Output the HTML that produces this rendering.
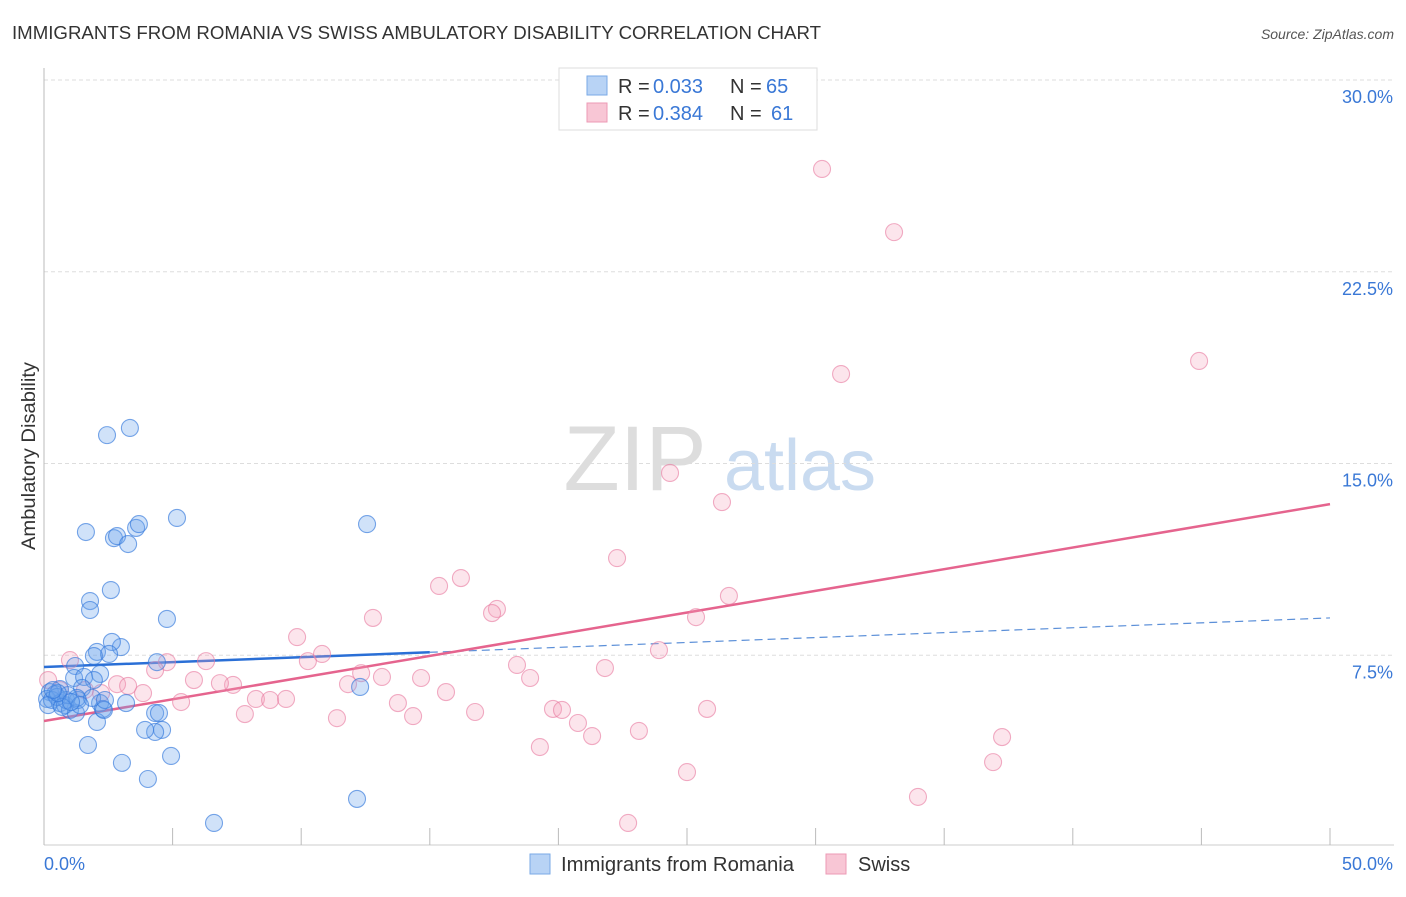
<!DOCTYPE html>
<html><head><meta charset="utf-8"><style>
body{margin:0;background:#fff;font-family:"Liberation Sans",sans-serif;}
svg text{font-family:"Liberation Sans",sans-serif;}
</style></head><body>
<svg id="chart" width="1406" height="892" viewBox="0 0 1406 892" xmlns="http://www.w3.org/2000/svg">
<text x="12" y="39" font-size="18" fill="#333" textLength="809" lengthAdjust="spacingAndGlyphs">IMMIGRANTS FROM ROMANIA VS SWISS AMBULATORY DISABILITY CORRELATION CHART</text>
<text x="1394" y="39" font-size="14" fill="#555" font-style="italic" text-anchor="end">Source: ZipAtlas.com</text>
<text x="35" y="456" font-size="19" fill="#333" transform="rotate(-90 35 456)" text-anchor="middle" textLength="188" lengthAdjust="spacingAndGlyphs">Ambulatory Disability</text>
<g><text x="635" y="490" font-size="92" fill="#ddd" text-anchor="middle" font-family="Liberation Serif">ZIP</text><text x="800" y="490" font-size="72" fill="#c9dbf0" text-anchor="middle">atlas</text></g>
<g id="grid"></g>
<g id="axes"></g>
<g id="lines"></g>
<g id="points"></g>
<g>
<rect x="559" y="68" width="258" height="62" fill="#fff" stroke="#ddd"/>
<rect x="587" y="76" width="20" height="19" fill="#b8d3f5" stroke="#7aa9e6"/>
<rect x="587" y="103" width="20" height="19" fill="#f8c6d5" stroke="#ec9ab5"/>
<g font-size="20">
<text x="618" y="93" fill="#333">R =</text><text x="653" y="93" fill="#3a78d6">0.033</text>
<text x="730" y="93" fill="#333">N =</text><text x="766" y="93" fill="#3a78d6">65</text></g>
<g font-size="20">
<text x="618" y="120" fill="#333">R =</text><text x="653" y="120" fill="#3a78d6">0.384</text>
<text x="730" y="120" fill="#333">N =</text><text x="771" y="120" fill="#3a78d6">61</text></g>
</g>
<g>
<rect x="530" y="854" width="20" height="20" fill="#b8d3f5" stroke="#7aa9e6"/>
<text x="561" y="871" font-size="20" fill="#333" textLength="233" lengthAdjust="spacingAndGlyphs">Immigrants from Romania</text>
<rect x="826" y="854" width="20" height="20" fill="#f8c6d5" stroke="#ec9ab5"/>
<text x="858" y="871" font-size="20" fill="#333">Swiss</text>
</g>
</svg>
<script>
const blueX=[2.45,3.34,1.63,2.72,2.84,3.27,3.58,3.69,5.17,12.56,2.60,1.79,1.79,4.78,2.99,2.64,2.06,2.53,1.94,1.21,4.39,1.17,1.56,2.18,1.94,1.48,0.62,0.23,0.43,0.12,0.31,0.62,0.82,1.01,1.24,0.86,1.32,0.51,2.18,3.19,2.29,4.32,4.47,12.29,2.06,4.59,4.32,3.93,1.71,3.03,4.04,4.94,12.17,6.61,1.28,0.93,0.16,1.87,2.33,0.70,0.54,0.35,1.40,2.37,1.05];
const blueY=[16.11,16.39,12.32,12.08,12.16,11.85,12.48,12.63,12.87,12.63,10.05,9.62,9.27,8.92,7.82,8.02,7.63,7.55,7.47,7.08,7.23,6.61,6.65,6.77,6.53,6.22,6.18,6.06,5.98,5.79,5.75,5.63,5.55,5.36,5.24,5.75,5.75,5.87,5.63,5.63,5.40,5.24,5.24,6.26,4.89,4.58,4.50,4.58,3.99,3.29,2.66,3.56,1.88,0.94,5.83,5.94,5.55,5.83,5.36,5.48,6.02,6.14,5.55,5.75,5.67];
const pinkX=[30.25,33.05,44.91,30.99,24.34,26.36,22.28,16.21,15.36,17.61,17.42,12.79,26.63,25.35,9.84,10.81,23.91,4.78,6.30,4.32,10.26,18.39,21.81,12.33,13.14,18.90,11.82,14.66,5.83,2.84,7.35,6.84,3.27,3.85,2.22,15.63,5.33,8.24,8.79,9.41,13.76,16.76,19.79,20.14,25.78,7.81,11.39,14.35,20.76,21.31,23.13,37.25,19.28,36.90,25.00,33.98,22.71,1.01,0.16,0.62,1.59];
const pinkY=[26.52,24.05,19.01,18.50,14.63,13.49,11.30,10.52,10.21,9.31,9.15,8.96,9.82,8.99,8.21,7.55,7.70,7.23,7.27,6.92,7.27,7.12,7.00,6.80,6.65,6.61,6.37,6.61,6.53,6.37,6.34,6.41,6.30,6.02,6.02,6.06,5.67,5.79,5.75,5.79,5.63,5.28,5.40,5.36,5.40,5.20,5.04,5.12,4.85,4.34,4.54,4.30,3.91,3.32,2.93,1.96,0.94,7.31,6.53,6.14,6.14];
const blueTrend=[7.04,8.96];
const blueSolidEnd=15;
const pinkTrend=[4.93,13.41];
const yTicks=[7.5,15,22.5,30];
const yTickLabels=["7.5%","15.0%","22.5%","30.0%"];
const xTicks=[0,5,10,15,20,25,30,35,40,45,50];
const xTickLabels=["0.0%","50.0%"];

const NS="http://www.w3.org/2000/svg";
const X0=44,X1=1330,Y0=847,Y30=80;
const sx=v=>X0+(X1-X0)*v/50;
const sy=v=>Y0-(Y0-Y30)*v/30;
function mk(tag,attrs,parent){const e=document.createElementNS(NS,tag);for(const k in attrs)e.setAttribute(k,attrs[k]);parent.appendChild(e);return e;}
const grid=document.getElementById('grid'),axes=document.getElementById('axes'),lines=document.getElementById('lines'),pts=document.getElementById('points');
yTicks.forEach((v,i)=>{
  const l=mk('line',{x1:X0,x2:1394,y1:sy(v),y2:sy(v),stroke:'#ddd','stroke-dasharray':'4,3'},grid);
  
  
  const t=mk('text',{x:1393,y:sy(v)+23,'font-size':18,fill:'#3a78d6','text-anchor':'end'},grid);
  t.textContent=yTickLabels[i];
  
  
});
const ax=mk('line',{x1:X0,x2:X0,y1:68,y2:845,stroke:'#bbb'},axes);


const bx=mk('line',{x1:X0,x2:1394,y1:845,y2:845,stroke:'#ccc'},axes);


xTicks.forEach(v=>{
  const t=mk('line',{x1:sx(v),x2:sx(v),y1:828,y2:845,stroke:'#bbb'},axes);
  
  
});
[[0,'start'],[50,'end']].forEach((p,i)=>{
  const t=mk('text',{x:i?1393:44,y:870,'font-size':18,fill:'#3a78d6','text-anchor':p[1]},axes);
  t.textContent=xTickLabels[i];
  
  
});
function drawPts(xs,ys,fill,stroke,name){
  xs.forEach((x,i)=>{
    const c=mk('circle',{cx:sx(x),cy:sy(ys[i]),r:8.5,fill:fill,stroke:stroke,'stroke-width':1.1},pts);
    
    
  });
}
drawPts(pinkX,pinkY,'rgba(244,160,188,0.28)','rgba(232,120,158,0.6)','swiss-point');
drawPts(blueX,blueY,'rgba(110,165,235,0.32)','rgba(50,120,220,0.65)','romania-point');
const bAt=v=>blueTrend[0]+(blueTrend[1]-blueTrend[0])*v/50;
const pAt=v=>pinkTrend[0]+(pinkTrend[1]-pinkTrend[0])*v/50;
const bl=mk('line',{x1:sx(0),y1:sy(bAt(0)),x2:sx(blueSolidEnd),y2:sy(bAt(blueSolidEnd)),stroke:'#2a6fd6','stroke-width':2.5},lines);


const bd=mk('line',{x1:sx(blueSolidEnd),y1:sy(bAt(blueSolidEnd)),x2:sx(50),y2:sy(bAt(50)),stroke:'#5b8fd8','stroke-width':1.2,'stroke-dasharray':'8,5'},lines);


const pl=mk('line',{x1:sx(0),y1:sy(pAt(0)),x2:sx(50),y2:sy(pAt(50)),stroke:'#e5648e','stroke-width':2.5},lines);


</script>
</body></html>
